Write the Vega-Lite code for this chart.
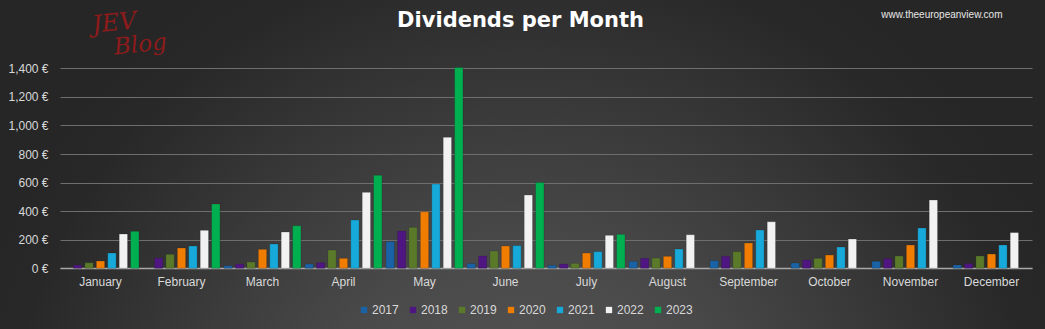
{
  "$schema": "https://vega.github.io/schema/vega-lite/v6.json",
  "width": 1045,
  "height": 329,
  "autosize": {"type": "none"},
  "padding": 0,
  "background": "#333333",
  "title": {
    "text": "Dividends per Month",
    "color": "#ffffff",
    "font": "DejaVu Sans",
    "fontSize": 21,
    "fontWeight": "bold",
    "anchor": "middle",
    "dx": -2,
    "offset": -31
  },
  "config": {
    "view": {
      "stroke": null,
      "fill": {
        "gradient": "radial",
        "x1": 0.5, "y1": 0.79, "r1": 0,
        "x2": 0.5, "y2": 0.79, "r2": 0.55,
        "stops": [
          {"offset": 0, "color": "#575757"},
          {"offset": 0.37, "color": "#4a4a4a"},
          {"offset": 0.9, "color": "#282828"},
          {"offset": 1, "color": "#262626"}
        ]
      }
    },
    "axis": {"labelFont": "Liberation Sans", "labelColor": "#d9d9d9", "labelFontSize": 12}
  },
  "resolve": {"axis": {"x": "independent", "y": "independent"}},
  "datasets": {
    "div": [
      {"month": "January", "year": "2018", "value": 23},
      {"month": "January", "year": "2019", "value": 39},
      {"month": "January", "year": "2020", "value": 51},
      {"month": "January", "year": "2021", "value": 107},
      {"month": "January", "year": "2022", "value": 240},
      {"month": "January", "year": "2023", "value": 259},
      {"month": "February", "year": "2018", "value": 72},
      {"month": "February", "year": "2019", "value": 98},
      {"month": "February", "year": "2020", "value": 142},
      {"month": "February", "year": "2021", "value": 156},
      {"month": "February", "year": "2022", "value": 266},
      {"month": "February", "year": "2023", "value": 450},
      {"month": "March", "year": "2017", "value": 18},
      {"month": "March", "year": "2018", "value": 30},
      {"month": "March", "year": "2019", "value": 44},
      {"month": "March", "year": "2020", "value": 133},
      {"month": "March", "year": "2021", "value": 170},
      {"month": "March", "year": "2022", "value": 254},
      {"month": "March", "year": "2023", "value": 298},
      {"month": "April", "year": "2017", "value": 30},
      {"month": "April", "year": "2018", "value": 39},
      {"month": "April", "year": "2019", "value": 128},
      {"month": "April", "year": "2020", "value": 70},
      {"month": "April", "year": "2021", "value": 338},
      {"month": "April", "year": "2022", "value": 532},
      {"month": "April", "year": "2023", "value": 651},
      {"month": "May", "year": "2017", "value": 186},
      {"month": "May", "year": "2018", "value": 261},
      {"month": "May", "year": "2019", "value": 287},
      {"month": "May", "year": "2020", "value": 396},
      {"month": "May", "year": "2021", "value": 590},
      {"month": "May", "year": "2022", "value": 917},
      {"month": "May", "year": "2023", "value": 1405},
      {"month": "June", "year": "2017", "value": 33},
      {"month": "June", "year": "2018", "value": 86},
      {"month": "June", "year": "2019", "value": 121},
      {"month": "June", "year": "2020", "value": 156},
      {"month": "June", "year": "2021", "value": 159},
      {"month": "June", "year": "2022", "value": 513},
      {"month": "June", "year": "2023", "value": 600},
      {"month": "July", "year": "2017", "value": 21},
      {"month": "July", "year": "2018", "value": 30},
      {"month": "July", "year": "2019", "value": 35},
      {"month": "July", "year": "2020", "value": 107},
      {"month": "July", "year": "2021", "value": 117},
      {"month": "July", "year": "2022", "value": 231},
      {"month": "July", "year": "2023", "value": 238},
      {"month": "August", "year": "2017", "value": 49},
      {"month": "August", "year": "2018", "value": 70},
      {"month": "August", "year": "2019", "value": 72},
      {"month": "August", "year": "2020", "value": 84},
      {"month": "August", "year": "2021", "value": 135},
      {"month": "August", "year": "2022", "value": 235},
      {"month": "September", "year": "2017", "value": 54},
      {"month": "September", "year": "2018", "value": 84},
      {"month": "September", "year": "2019", "value": 117},
      {"month": "September", "year": "2020", "value": 177},
      {"month": "September", "year": "2021", "value": 268},
      {"month": "September", "year": "2022", "value": 326},
      {"month": "October", "year": "2017", "value": 37},
      {"month": "October", "year": "2018", "value": 58},
      {"month": "October", "year": "2019", "value": 70},
      {"month": "October", "year": "2020", "value": 93},
      {"month": "October", "year": "2021", "value": 149},
      {"month": "October", "year": "2022", "value": 205},
      {"month": "November", "year": "2017", "value": 49},
      {"month": "November", "year": "2018", "value": 68},
      {"month": "November", "year": "2019", "value": 86},
      {"month": "November", "year": "2020", "value": 163},
      {"month": "November", "year": "2021", "value": 282},
      {"month": "November", "year": "2022", "value": 478},
      {"month": "December", "year": "2017", "value": 23},
      {"month": "December", "year": "2018", "value": 33},
      {"month": "December", "year": "2019", "value": 86},
      {"month": "December", "year": "2020", "value": 100},
      {"month": "December", "year": "2021", "value": 163},
      {"month": "December", "year": "2022", "value": 250}
    ]
  },
  "layer": [
    {
      "data": {"name": "div"},
      "mark": {"type": "bar", "stroke": "#222222", "strokeWidth": 0.4, "strokeOpacity": 0.6},
      "encoding": {
        "x": {
          "field": "month", "type": "nominal",
          "sort": ["January","February","March","April","May","June","July","August","September","October","November","December"],
          "scale": {"paddingInner": 0.05, "paddingOuter": 0.025, "range": [60, 1032]},
          "axis": {"title": null, "labelAngle": 0, "ticks": false, "domainColor": "#a8a8a8", "domainWidth": 1.5, "labelPadding": 8, "offset": -61}
        },
        "xOffset": {
          "field": "year", "type": "nominal",
          "scale": {"domain": ["2017","2018","2019","2020","2021","2022","2023"], "paddingInner": 0.27}
        },
        "y": {
          "field": "value", "type": "quantitative",
          "scale": {"domain": [0, 1400], "nice": false, "range": [268.3, 68.3]},
          "axis": {
            "title": null, "values": [0,200,400,600,800,1000,1200,1400],
            "labelExpr": "format(datum.value, ',') + ' €'",
            "labelOverlap": false,
            "ticks": false, "domain": false, "labelPadding": 12, "offset": -60,
            "gridColor": "#6e6e6e", "gridWidth": 1
          }
        },
        "color": {
          "field": "year", "type": "nominal",
          "scale": {
            "domain": ["2017","2018","2019","2020","2021","2022","2023"],
            "range": ["#1a62a6","#4f1580","#5a7a2a","#f07c00","#17a9da","#f2f2f2","#00b050"]
          },
          "legend": {
            "title": null, "orient": "none", "direction": "horizontal",
            "legendX": 358, "legendY": 304,
            "symbolType": "square", "symbolSize": 40, "symbolStrokeWidth": 0,
            "labelColor": "#d9d9d9", "labelFontSize": 12, "labelFont": "Liberation Sans",
            "labelOffset": 2, "columnPadding": 8
          }
        }
      }
    },
    {
      "data": {"values": [{}]},
      "mark": {"type": "text", "font": "DejaVu Serif", "fontStyle": "italic", "fontSize": 24, "color": "#8e1b1b", "angle": -6, "dx": 14},
      "encoding": {
        "x": {"datum": "January", "axis": null},
        "y": {"datum": 1703, "axis": null},
        "text": {"value": "JEV"}
      }
    },
    {
      "data": {"values": [{}]},
      "mark": {"type": "text", "font": "DejaVu Serif", "fontStyle": "italic", "fontSize": 23, "color": "#8e1b1b", "angle": -6, "dx": 40},
      "encoding": {
        "x": {"datum": "January", "axis": null},
        "y": {"datum": 1535, "axis": null},
        "text": {"value": "Blog"}
      }
    },
    {
      "data": {"values": [{}]},
      "mark": {"type": "text", "font": "Liberation Sans", "fontSize": 10, "color": "#e6e6e6", "align": "right", "dx": 11},
      "encoding": {
        "x": {"datum": "December", "axis": null},
        "y": {"datum": 1773, "axis": null},
        "text": {"value": "www.theeuropeanview.com"}
      }
    }
  ]
}
